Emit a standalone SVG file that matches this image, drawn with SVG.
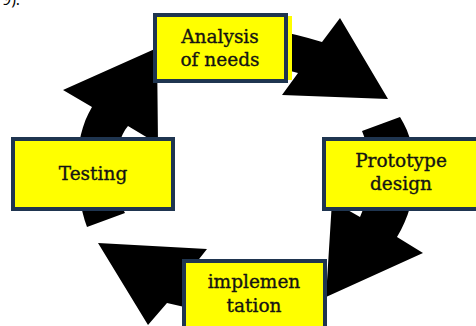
<svg xmlns="http://www.w3.org/2000/svg" width="476" height="326" viewBox="0 0 476 326">
  <style>
    .arrow { fill: #000000; stroke: none; }
    .box { fill: #ffff00; stroke: #1f3550; stroke-width: 4; }
    .lbl { font-family: "DejaVu Serif", "Liberation Serif", serif; font-size: 18.5px; fill: #141414; stroke: #141414; stroke-width: 0.35; text-anchor: middle; }
    .frag { font-family: "Open Sans", "Liberation Sans", sans-serif; font-size: 16px; fill: #000; }
  </style>
  <rect width="476" height="326" fill="#ffffff"/>
  <text class="frag" x="2" y="5">9).</text>
  <g id="connectors">
    <!-- Analysis -> Prototype -->
    <path class="arrow" d="M230,26 Q270,26 322,42 L340,18 L388,99 L282,95 L298,73 Q270,64 230,66 Z"/>
    <!-- Prototype -> implementation -->
    <path class="arrow" d="M362,131 L400,117 C421,150 420,200 397,237 L423,253 L326,297 L332,201 L360,217 C372,190 374,160 362,131 Z"/>
    <!-- implementation -> Testing -->
    <path class="arrow" d="M275,308 Q225,318 167,303 L148,325 L98,243 L207,249 L192,268 Q230,278 272,270 Z"/>
    <!-- Testing -> Analysis -->
    <path class="arrow" d="M87,227 C74,190 72,140 92,107 L63,90 L157,48 L158,144 L128,126 C112,145 112,190 125,213 Z"/>
  </g>
  <g id="node-analysis">
    <rect x="285" y="16" width="7" height="64" fill="#ffff00"/>
    <rect class="box" x="155" y="15" width="131" height="66"/>
    <text class="lbl" x="220" y="43">Analysis</text>
    <text class="lbl" x="220" y="66">of needs</text>
  </g>
  <g id="node-testing">
    <rect class="box" x="13" y="139" width="160" height="70"/>
    <text class="lbl" x="93" y="180">Testing</text>
  </g>
  <g id="node-prototype">
    <rect class="box" x="324" y="139" width="160" height="70"/>
    <text class="lbl" x="401" y="167">Prototype</text>
    <text class="lbl" x="401" y="190">design</text>
  </g>
  <g id="node-implementation">
    <rect class="box" x="184" y="261" width="141" height="70"/>
    <text class="lbl" x="254" y="288">implemen</text>
    <text class="lbl" x="254" y="312">tation</text>
  </g>
</svg>
